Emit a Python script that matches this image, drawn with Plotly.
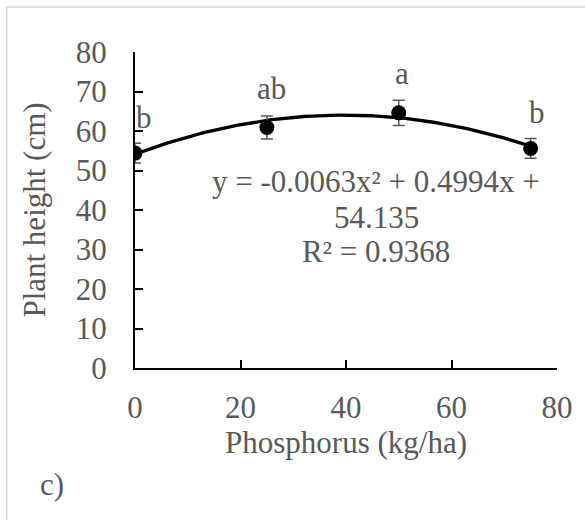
import numpy as np
import plotly.graph_objects as go

# Data
phosphorus = [0, 25, 50, 75]
height = [54.4, 60.9, 64.6, 55.6]
err = [2.5, 2.9, 3.2, 2.5]
letters = ["b", "ab", "a", "b"]
letter_x = [1.7, 25.8, 50.6, 76.2]
letter_y = [63.4, 70.8, 74.6, 64.7]
coef = [-0.0063, 0.4994, 54.135]
r2 = 0.9368
x_ticks = [0, 20, 40, 60, 80]
y_ticks = [0, 10, 20, 30, 40, 50, 60, 70, 80]

W, H = 585, 520
L, R, T, B = 135, 24, 52, 152
pw, ph = W - L - R, H - T - B

FONT = "Liberation Serif, Times New Roman, serif"
GRAY = "#595959"
FS = 31

xf = np.linspace(0, 75, 200)
yf = np.polyval(coef, xf)

fig = go.Figure()
fig.add_trace(go.Scatter(x=xf, y=yf, mode="lines",
                         line=dict(color="black", width=3.3),
                         hoverinfo="skip", showlegend=False))
fig.add_trace(go.Scatter(x=phosphorus, y=height, mode="markers",
                         marker=dict(color="black", size=15),
                         error_y=dict(type="data", array=err, color=GRAY,
                                      thickness=1.5, width=6),
                         showlegend=False))

for xv, yv, t in zip(letter_x, letter_y, letters):
    fig.add_annotation(x=xv, y=yv, text=t, showarrow=False,
                       font=dict(family=FONT, size=FS, color=GRAY))

eq_lines = ["y = %.4fx² + %.4fx +" % (coef[0], coef[1]),
            "%.3f" % coef[2],
            "R² = %.4f" % r2]
eq_y = [47.1, 38.2, 29.4]
for t, yv in zip(eq_lines, eq_y):
    fig.add_annotation(x=45.7, y=yv, text=t, showarrow=False,
                       font=dict(family=FONT, size=FS, color=GRAY))

fig.add_annotation(xref="paper", yref="paper",
                   x=(37 - L) / pw, y=(H - B - 484) / ph, text="c)",
                   showarrow=False, xanchor="left", yanchor="middle",
                   font=dict(family=FONT, size=FS, color=GRAY))

# outer border
fig.add_shape(type="rect", xref="paper", yref="paper",
              x0=(5.5 - L) / pw, x1=(W + 10 - L) / pw,
              y0=(H - B - (H + 10)) / ph, y1=(H - B - 7) / ph,
              line=dict(color="#d9d9d9", width=1.5))

axis_common = dict(showgrid=False, zeroline=False, showline=True,
                   linecolor="black", linewidth=2, ticks="inside",
                   ticklen=8, tickwidth=2, tickcolor="black",
                   tickfont=dict(family=FONT, size=FS, color=GRAY))
fig.update_xaxes(range=[0, 80], tickvals=x_ticks, ticklabelstandoff=11,
                 title=dict(text="Phosphorus (kg/ha)", standoff=0,
                            font=dict(family=FONT, size=FS, color=GRAY)),
                 **axis_common)
fig.update_yaxes(range=[0, 80], tickvals=y_ticks, ticklabelstandoff=20,
                 title=dict(text="Plant height (cm)", standoff=21,
                            font=dict(family=FONT, size=FS, color=GRAY)),
                 **axis_common)

fig.update_layout(width=W, height=H, margin=dict(l=L, r=R, t=T, b=B),
                  plot_bgcolor="white", paper_bgcolor="white")
fig.write_html("out.html")
